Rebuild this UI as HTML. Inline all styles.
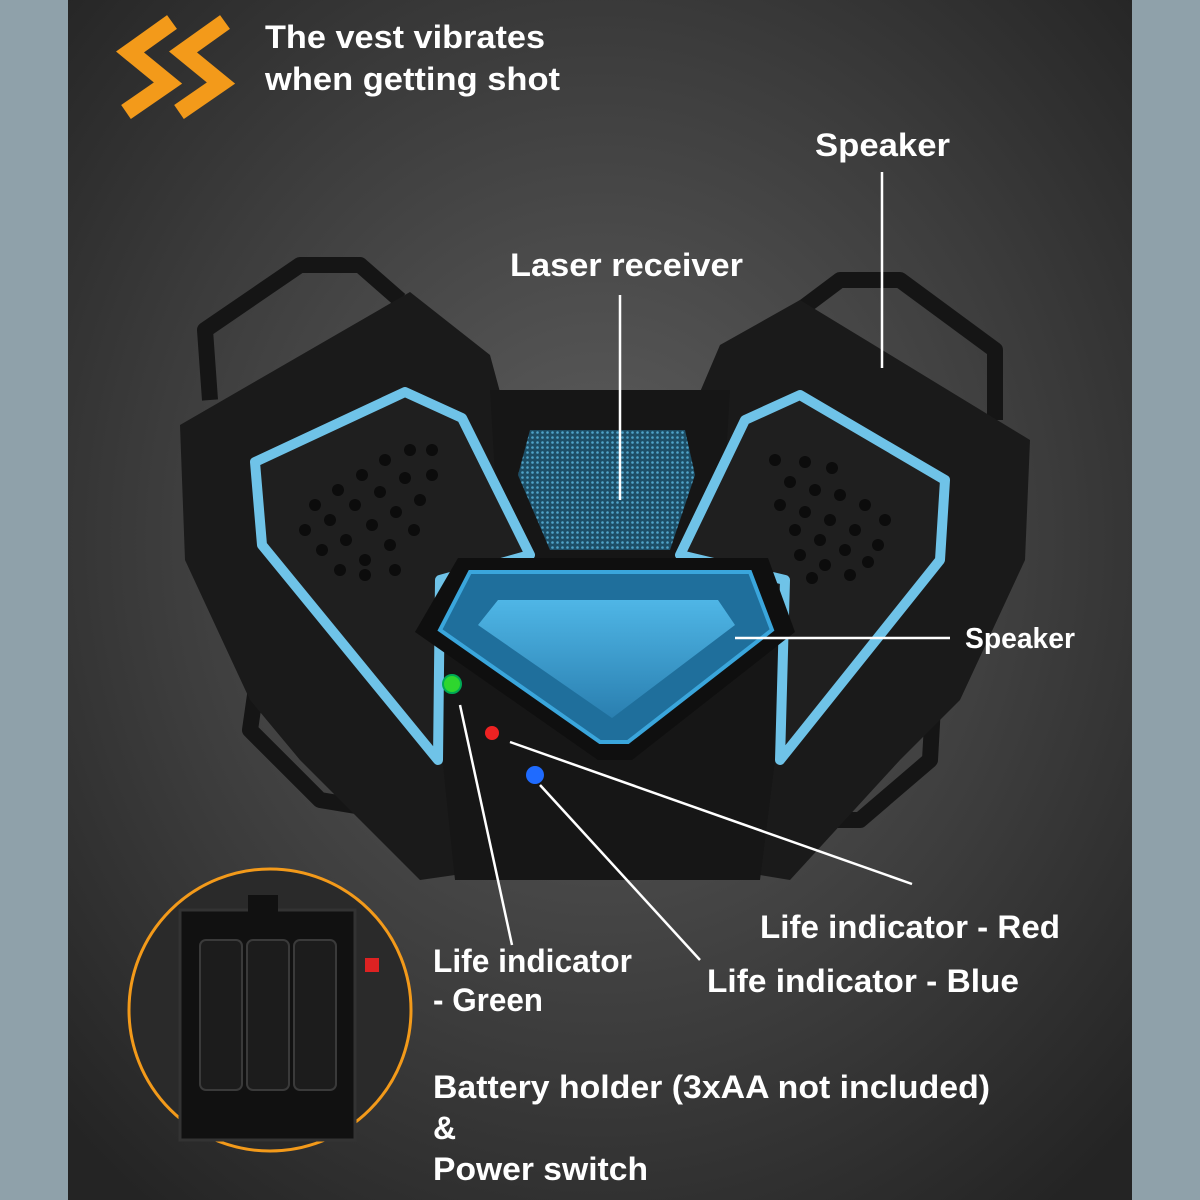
<!DOCTYPE html>
<html><head><meta charset="utf-8"><style>
html,body{margin:0;padding:0;width:1200px;height:1200px;overflow:hidden;background:#8fa1aa}
svg{display:block}
text{font-family:"Liberation Sans",Arial,sans-serif;font-weight:bold;fill:#fff}
</style></head><body>
<svg width="1200" height="1200" viewBox="0 0 1200 1200">
<defs>
<radialGradient id="bg" cx="0.5" cy="0.45" r="0.7">
<stop offset="0" stop-color="#5e5e5e"/><stop offset="0.6" stop-color="#3c3c3c"/><stop offset="1" stop-color="#242424"/>
</radialGradient>
<pattern id="mesh" width="5" height="5" patternUnits="userSpaceOnUse">
<rect width="5" height="5" fill="#1d4e66"/><circle cx="2.5" cy="2.5" r="1.3" fill="#4fa3c8"/>
</pattern>
<linearGradient id="scr" x1="0" y1="0" x2="0" y2="1"><stop offset="0" stop-color="#4fb6e6"/><stop offset="1" stop-color="#2a7fb0"/></linearGradient>
</defs>
<rect x="0" y="0" width="1200" height="1200" fill="#8fa1aa"/>
<rect x="68" y="0" width="1064" height="1200" fill="url(#bg)"/>
<g fill="none" stroke="#f39a1a" stroke-width="17" stroke-linejoin="miter">
<polyline points="172,22 130,52 168,83 126,112"/>
<polyline points="225,22 183,52 221,83 179,112"/>
</g>
<text x="265" y="48" font-size="32" textLength="280" lengthAdjust="spacingAndGlyphs">The vest vibrates</text>
<text x="265" y="90" font-size="32" textLength="295" lengthAdjust="spacingAndGlyphs">when getting shot</text>
<g fill="none" stroke="#151515" stroke-width="16" stroke-linejoin="round">
<path d="M210,400 L205,330 L300,265 L360,265 L400,300"/>
<path d="M995,420 L995,350 L900,280 L840,280 L800,310"/>
<path d="M260,660 L250,730 L320,800 L380,810"/>
<path d="M935,670 L930,760 L860,820 L800,820"/>
</g>
<polygon points="180,425 410,292 490,355 500,392 540,560 430,640 455,875 420,880 300,760 250,700 185,560" fill="#1a1a1a"/>
<polygon points="1030,440 800,300 720,345 700,392 690,560 790,640 760,875 790,880 900,760 960,700 1025,560" fill="#1a1a1a"/>
<polygon points="490,390 730,390 720,560 790,640 760,880 455,880 430,640 500,560" fill="#161616"/>
<polygon points="255,462 405,392 462,418 530,555 440,580 438,760 262,545" fill="#1f1f1f" stroke="#6fc3e8" stroke-width="10" stroke-linejoin="round"/>
<polygon points="945,480 800,395 745,420 680,555 785,580 780,760 940,560" fill="#1f1f1f" stroke="#6fc3e8" stroke-width="10" stroke-linejoin="round"/>
<polygon points="530,430 685,430 695,475 670,550 550,550 518,475" fill="url(#mesh)"/>
<g fill="#0c0c0c">
<circle cx="315" cy="505" r="6"/><circle cx="338" cy="490" r="6"/><circle cx="362" cy="475" r="6"/><circle cx="385" cy="460" r="6"/><circle cx="410" cy="450" r="6"/><circle cx="432" cy="450" r="6"/>
<circle cx="305" cy="530" r="6"/><circle cx="330" cy="520" r="6"/><circle cx="355" cy="505" r="6"/><circle cx="380" cy="492" r="6"/><circle cx="405" cy="478" r="6"/><circle cx="432" cy="475" r="6"/>
<circle cx="322" cy="550" r="6"/><circle cx="346" cy="540" r="6"/><circle cx="372" cy="525" r="6"/><circle cx="396" cy="512" r="6"/><circle cx="420" cy="500" r="6"/>
<circle cx="340" cy="570" r="6"/><circle cx="365" cy="560" r="6"/><circle cx="390" cy="545" r="6"/><circle cx="414" cy="530" r="6"/>
<circle cx="365" cy="575" r="6"/><circle cx="395" cy="570" r="6"/>
<circle cx="775" cy="460" r="6"/><circle cx="805" cy="462" r="6"/><circle cx="832" cy="468" r="6"/>
<circle cx="790" cy="482" r="6"/><circle cx="815" cy="490" r="6"/><circle cx="840" cy="495" r="6"/><circle cx="865" cy="505" r="6"/><circle cx="885" cy="520" r="6"/>
<circle cx="780" cy="505" r="6"/><circle cx="805" cy="512" r="6"/><circle cx="830" cy="520" r="6"/><circle cx="855" cy="530" r="6"/><circle cx="878" cy="545" r="6"/>
<circle cx="795" cy="530" r="6"/><circle cx="820" cy="540" r="6"/><circle cx="845" cy="550" r="6"/><circle cx="868" cy="562" r="6"/>
<circle cx="800" cy="555" r="6"/><circle cx="825" cy="565" r="6"/><circle cx="850" cy="575" r="6"/><circle cx="812" cy="578" r="6"/>
</g>
<polygon points="415,632 458,558 768,558 795,632 632,760 598,760" fill="#0f0f0f"/>
<polygon points="440,630 470,572 750,572 772,630 628,742 600,742" fill="#1f6f9c" stroke="#3aa6dc" stroke-width="4"/>
<polygon points="478,625 498,600 718,600 735,625 612,718" fill="url(#scr)"/>
<circle cx="452" cy="684" r="9" fill="#2ed62e" stroke="#0a5" stroke-width="2"/>
<circle cx="492" cy="733" r="7" fill="#e22"/>
<circle cx="535" cy="775" r="9" fill="#1f6bff"/>
<g stroke="#fff" stroke-width="2.5">
<line x1="882" y1="172" x2="882" y2="368"/>
<line x1="620" y1="295" x2="620" y2="500"/>
<line x1="735" y1="638" x2="950" y2="638"/>
<line x1="460" y1="705" x2="512" y2="945"/>
<line x1="510" y1="742" x2="912" y2="884"/>
<line x1="540" y1="785" x2="700" y2="960"/>
</g>
<circle cx="270" cy="1010" r="141" fill="#2a2a2a" stroke="#f39a1a" stroke-width="3"/>
<rect x="180" y="910" width="175" height="230" fill="#111" stroke="#333" stroke-width="3"/>
<g fill="#1c1c1c" stroke="#3a3a3a" stroke-width="2">
<rect x="200" y="940" width="42" height="150" rx="6"/>
<rect x="247" y="940" width="42" height="150" rx="6"/>
<rect x="294" y="940" width="42" height="150" rx="6"/>
</g>
<rect x="248" y="895" width="30" height="25" fill="#111"/>
<rect x="365" y="958" width="14" height="14" fill="#d22"/>
<text x="815" y="156" font-size="32" textLength="135" lengthAdjust="spacingAndGlyphs">Speaker</text>
<text x="510" y="276" font-size="32" textLength="233" lengthAdjust="spacingAndGlyphs">Laser receiver</text>
<text x="965" y="648" font-size="29" textLength="110" lengthAdjust="spacingAndGlyphs">Speaker</text>
<text x="760" y="938" font-size="32" textLength="300" lengthAdjust="spacingAndGlyphs">Life indicator - Red</text>
<text x="433" y="972" font-size="32" textLength="199" lengthAdjust="spacingAndGlyphs">Life indicator</text>
<text x="433" y="1011" font-size="32" textLength="110" lengthAdjust="spacingAndGlyphs">- Green</text>
<text x="707" y="992" font-size="32" textLength="312" lengthAdjust="spacingAndGlyphs">Life indicator - Blue</text>
<text x="433" y="1098" font-size="32" textLength="557" lengthAdjust="spacingAndGlyphs">Battery holder (3xAA not included)</text>
<text x="433" y="1139" font-size="32">&amp;</text>
<text x="433" y="1180" font-size="32" textLength="215" lengthAdjust="spacingAndGlyphs">Power switch</text>
</svg>
</body></html>
